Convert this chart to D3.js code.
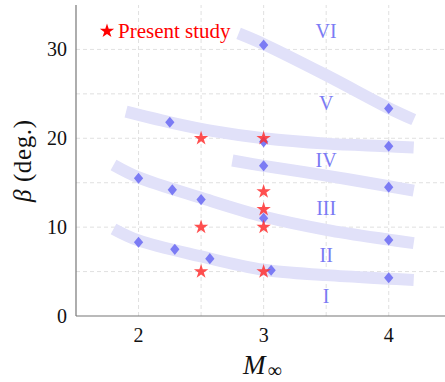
<!DOCTYPE html>
<html>
<head>
<meta charset="utf-8">
<script src="https://d3js.org/d3.v7.min.js"></script>
<style>
  body { margin: 0; background: white; }
  svg { font-family: "Liberation Serif", "DejaVu Serif", serif; }
</style>
</head>
<body>
<svg id="chart" width="445" height="382"></svg>
<script>
// regime bands (smooth curves) : x = Mach, y = beta
const bandI_II = [[1.8, 9.8], [2, 8.5], [2.5, 6.7], [3, 5.2], [3.5, 4.6], [4, 4.2], [4.2, 4.05]];
const bandII_III = [[1.8, 17.0], [2, 15.6], [2.5, 13.3], [3, 11.2], [3.5, 9.7], [4, 8.6], [4.2, 8.2]];
const bandIV = [[2.75, 17.5], [3, 16.9], [3.5, 15.8], [4, 14.6], [4.2, 14.1]];
const bandV = [[1.9, 23.0], [2.25, 21.8], [2.6, 20.8], [3, 20.0], [3.5, 19.4], [4, 19.1], [4.2, 18.95]];
const bandVI = [[2.8, 31.8], [3, 30.6], [3.5, 27.1], [4, 23.4], [4.2, 22.1]];
const bands = [bandI_II, bandII_III, bandIV, bandV, bandVI];

// earlier data (diamonds)
const diamondsMach = [2, 2.29, 2.57, 3.06, 4, 2, 2.27, 2.5, 3, 4, 3, 4, 2.25, 3, 4, 3, 4];
const diamondsBeta = [8.3, 7.5, 6.45, 5.15, 4.3, 15.5, 14.2, 13.1, 11.0, 8.55, 16.9, 14.5, 21.8, 19.6, 19.1, 30.5, 23.35];

// present study (stars)
const starsMach = [2.5, 3, 3, 3, 2.5, 3, 2.5, 3];
const starsBeta = [20, 20, 14, 12, 10, 10, 5, 5];

const regionLabels = ["VI", "V", "IV", "III", "II", "I"];
const regionBeta = [32.1, 24.0, 17.6, 12.1, 6.9, 2.2];

const xTicks = [2, 3, 4];
const yTicks = [0, 10, 20, 30];

const svg = d3.select("#chart");
const margin = {left: 76, top: 5, right: 0, bottom: 66};
const W = 445, H = 382;

const x = d3.scaleLinear([1.5, 4.45], [margin.left, W - margin.right]);
const y = d3.scaleLinear([0, 35], [H - margin.bottom, margin.top]);

// grid
const grid = svg.append("g").attr("stroke", "#d8d8d8").attr("stroke-dasharray", "4,3").attr("stroke-width", 0.8);
grid.selectAll(".gx").data([2, 2.5, 3, 3.5, 4]).join("line")
  .attr("x1", d => x(d)).attr("x2", d => x(d)).attr("y1", y(0)).attr("y2", y(35));
grid.selectAll(".gy").data([5, 10, 15, 20, 25, 30]).join("line")
  .attr("x1", x(1.5)).attr("x2", W).attr("y1", d => y(d)).attr("y2", d => y(d));

// bands
const line = d3.line().x(d => x(d[0])).y(d => y(d[1])).curve(d3.curveCatmullRom);
svg.append("g").selectAll("path").data(bands).join("path")
  .attr("d", line).attr("fill", "none")
  .attr("stroke", "#e1e1f9").attr("stroke-width", 12);

// diamonds
const diamonds = diamondsMach.map((m, i) => [m, diamondsBeta[i]]);
svg.append("g").selectAll("path").data(diamonds).join("path")
  .attr("d", d3.symbol(d3.symbolSquare, 43))
  .attr("transform", d => `translate(${x(d[0])},${y(d[1])}) scale(1,1.2) rotate(45)`)
  .attr("fill", "#7b7bf4");

// stars
const stars = starsMach.map((m, i) => [m, starsBeta[i]]);
svg.append("g").selectAll("path").data(stars).join("path")
  .attr("d", d3.symbol(d3.symbolStar, 64))
  .attr("transform", d => `translate(${x(d[0])},${y(d[1])})`)
  .attr("fill", "#ff3030").attr("fill-opacity", 0.85);

// region labels
svg.append("g").selectAll("text").data(regionLabels).join("text")
  .attr("x", x(3.5)).attr("y", (d, i) => y(regionBeta[i]))
  .attr("dy", "0.35em").attr("text-anchor", "middle")
  .attr("fill", "#7b7bf4").attr("font-size", 20).text(d => d);

// axes
const axisColor = "#777";
svg.append("line").attr("x1", x(1.5)).attr("x2", x(1.5)).attr("y1", y(0)).attr("y2", y(35))
  .attr("stroke", axisColor).attr("stroke-width", 1.2);
svg.append("line").attr("x1", x(1.5)).attr("x2", W).attr("y1", y(0)).attr("y2", y(0))
  .attr("stroke", axisColor).attr("stroke-width", 1.2);

svg.append("g").selectAll("text").data(xTicks).join("text")
  .attr("x", d => x(d)).attr("y", 342).attr("text-anchor", "middle")
  .attr("font-size", 20).attr("fill", "#111").text(d => d);
svg.append("g").selectAll("text").data(yTicks).join("text")
  .attr("x", x(1.5) - 9).attr("y", d => y(d)).attr("dy", "0.35em").attr("text-anchor", "end")
  .attr("font-size", 20).attr("fill", "#111").text(d => d);

// axis titles
const xl = svg.append("text").attr("x", 243).attr("y", 374)
  .attr("font-size", 27).attr("fill", "#111");
xl.append("tspan").attr("font-style", "italic").text("M");
xl.append("tspan").attr("dy", 3).attr("dx", 2).attr("font-size", 20).text("∞");

const yl = svg.append("text").attr("transform", `translate(31,161) rotate(-90)`)
  .attr("text-anchor", "middle").attr("font-size", 25).attr("fill", "#111")
  .attr("textLength", 82).attr("lengthAdjust", "spacing");
yl.append("tspan").attr("font-style", "italic").text("β");
yl.append("tspan").text(" (deg.)");

// legend
svg.append("path").attr("d", d3.symbol(d3.symbolStar, 64))
  .attr("transform", `translate(107,31)`).attr("fill", "#ff0000");
svg.append("text").attr("x", 118).attr("y", 31).attr("dy", "0.35em")
  .attr("font-size", 21).attr("fill", "#ff0000").text("Present study");
</script>
</body>
</html>
